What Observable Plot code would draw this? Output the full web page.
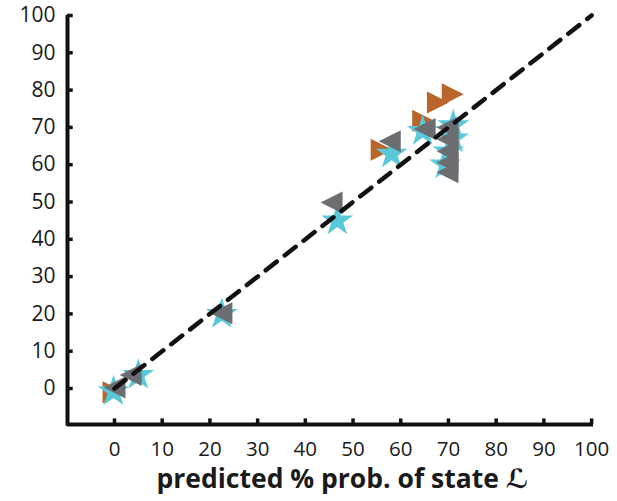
<!DOCTYPE html>
<html>
<head>
<meta charset="utf-8">
<script src="https://cdn.jsdelivr.net/npm/d3@7"></script>
<script src="https://cdn.jsdelivr.net/npm/@observablehq/plot@0.6"></script>
<style>
  html, body { margin: 0; padding: 0; background: #fff; }
  #chart { width: 617px; height: 501px; }
</style>
</head>
<body>
<div id="chart"></div>
<script>
// ---- data ----
const xTicks = [0, 10, 20, 30, 40, 50, 60, 70, 80, 90, 100];
const yTicks = [0, 10, 20, 30, 40, 50, 60, 70, 80, 90, 100];
const diagonal = [0, 100];

// orange, right-pointing triangles
const orangeX = [-0.2, 56, 64.7, 67.8, 70.9];
const orangeY = [-1, 64, 71.8, 76.7, 78.9];
// cyan stars
const starX = [-0.2, 5, 22.5, 46.7, 58.1, 64.6, 71, 71, 70, 69.3];
const starY = [-0.8, 3.6, 19.9, 45, 62.9, 69, 70.5, 67, 63.5, 60];
// grey, left-pointing triangles
const grayX = [0, 3.4, 22.4, 45.5, 57.7, 65, 69.8, 69.8, 69.8, 69.8, 69.8];
const grayY = [0.3, 3.6, 20.2, 49.9, 66.3, 69.6, 70, 66.8, 63.6, 60.6, 58];

const xLabel = "predicted % prob. of state ";
const xLabelSymbol = "ℒ";

// ---- build ----
const zip = (xs, ys) => xs.map((x, i) => ({x, y: ys[i]}));
const orange = zip(orangeX, orangeY);
const stars = zip(starX, starY);
const gray = zip(grayX, grayY);

const triLeft = {draw(ctx, size) { const r = Math.sqrt(size / Math.PI); ctx.moveTo(-r, 0); ctx.lineTo(r, -r); ctx.lineTo(r, r); ctx.closePath(); }};
const triRight = {draw(ctx, size) { const r = Math.sqrt(size / Math.PI); ctx.moveTo(r, 0); ctx.lineTo(-r, -r); ctx.lineTo(-r, r); ctx.closePath(); }};

const xMin = -9.85, xMax = 100.4, yMin = -9.65, yMax = 100;
const font = "'Open Sans', sans-serif";

const plot = Plot.plot({
  width: 617,
  height: 501,
  marginLeft: 67,
  marginRight: 24,
  marginTop: 15,
  marginBottom: 77,
  style: {fontFamily: font, background: "#fff", color: "#1a1a1a", overflow: "visible"},
  x: {domain: [xMin, xMax]},
  y: {domain: [yMin, yMax]},
  marks: [
    Plot.axisX({ticks: xTicks, tickSize: 0, tickPadding: 17, fontSize: 20.5, label: null, tickFormat: d => String(d)}),
    Plot.axisY({ticks: yTicks, tickSize: 0, tickPadding: 12, fontSize: 21, label: null, tickFormat: d => String(d)}),
    // axis lines
    Plot.ruleY([yMin], {x1: xMin, x2: xMax, stroke: "#111", strokeWidth: 4}),
    Plot.ruleX([xMin], {y1: yMin - 0.5, y2: yMax, stroke: "#111", strokeWidth: 4}),
    // inward ticks
    Plot.ruleX(xTicks, {x: d => d, y1: yMin, y2: yMin + 1.5, stroke: "#111", strokeWidth: 3.5}),
    Plot.ruleY(yTicks, {y: d => d, x1: xMin, x2: xMin + 1.2, stroke: "#111", strokeWidth: 3.5}),
    // markers
    Plot.dot(orange, {x: "x", y: "y", symbol: triRight, r: 11, fill: "#b9652c", stroke: "none"}),
    Plot.dot(stars, {x: "x", y: "y", symbol: "star", r: 10, fill: "#58c8da", stroke: "none"}),
    Plot.dot(gray, {x: "x", y: "y", symbol: triLeft, r: 11, fill: "#6c6d70", stroke: "none"}),
    // dashed identity line
    Plot.line(diagonal, {x: d => d, y: d => d, stroke: "#111", strokeWidth: 4.5, strokeDasharray: "14,10"}),
    // x title
    Plot.text([xLabel + xLabelSymbol], {frameAnchor: "bottom", dy: 63.5, dx: 12, text: d => d, fontSize: 26.5, fontWeight: "bold", fill: "#1a1a1a", textAnchor: "middle"})
  ]
});

document.getElementById("chart").appendChild(plot);

// italicise the script L
d3.select(plot).selectAll("text").filter(function () { return this.textContent === xLabel + xLabelSymbol; })
  .each(function () {
    const t = d3.select(this);
    t.text(null);
    t.append("tspan").text(xLabel);
    t.append("tspan").attr("font-style", "italic").attr("font-family", "'DejaVu Sans'").text(xLabelSymbol);
  });
</script>
</body>
</html>
